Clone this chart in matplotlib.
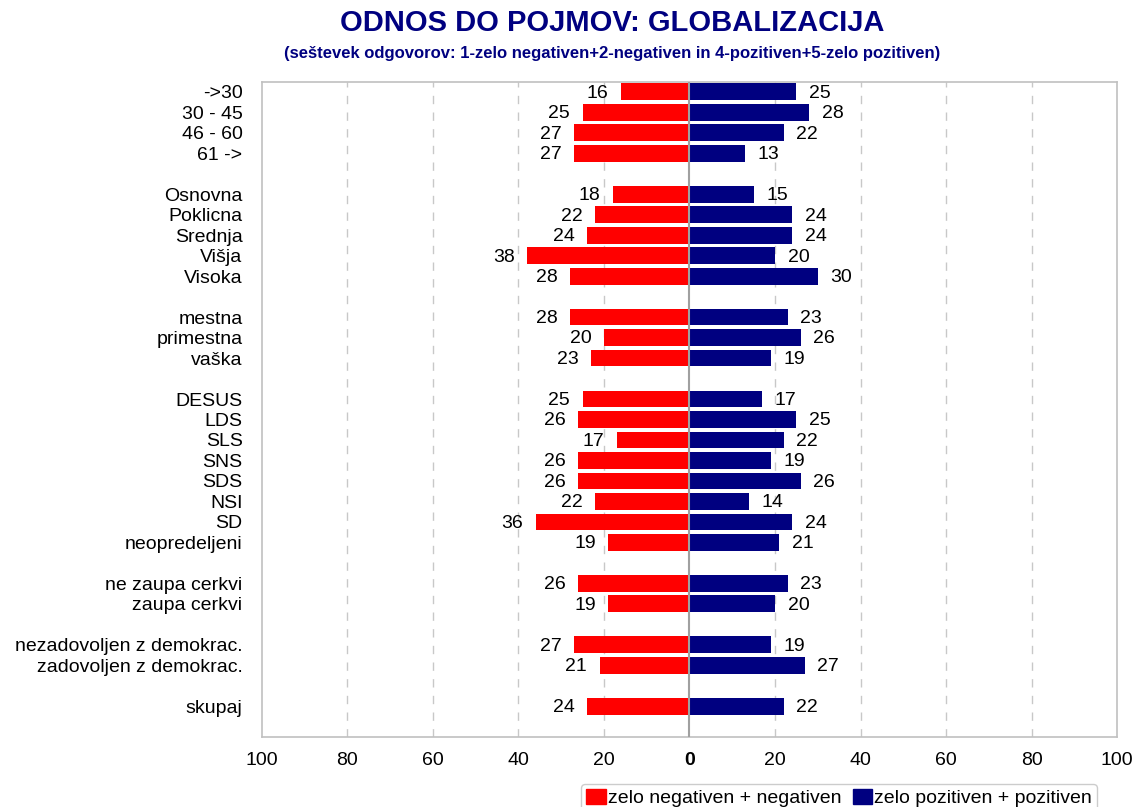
import numpy as np
import matplotlib.pyplot as plt
from matplotlib.patches import Patch

plt.rcParams['font.family'] = ['Liberation Sans', 'DejaVu Sans']

# data
labels = ['->30', '30 - 45', '46 - 60', '61 ->',
          'Osnovna', 'Poklicna', 'Srednja', 'Višja', 'Visoka',
          'mestna', 'primestna', 'vaška',
          'DESUS', 'LDS', 'SLS', 'SNS', 'SDS', 'NSI', 'SD', 'neopredeljeni',
          'ne zaupa cerkvi', 'zaupa cerkvi',
          'nezadovoljen z demokrac.', 'zadovoljen z demokrac.',
          'skupaj']
group_sizes = [4, 5, 3, 8, 2, 2, 1]
negative = [16, 25, 27, 27,
            18, 22, 24, 38, 28,
            28, 20, 23,
            25, 26, 17, 26, 26, 22, 36, 19,
            26, 19,
            27, 21,
            24]
positive = [25, 28, 22, 13,
            15, 24, 24, 20, 30,
            23, 26, 19,
            17, 25, 22, 19, 26, 14, 24, 21,
            23, 20,
            19, 27,
            22]
xticks = [-100, -80, -60, -40, -20, 0, 20, 40, 60, 80, 100]
legend_labels = ['zelo negativen + negativen', 'zelo pozitiven + pozitiven']

red = '#FF0000'
navy = '#000080'
grey = '#C0C0C0'

# row positions with a blank slot between groups
ypos = []
slot = 0
for g in group_sizes:
    for i in range(g):
        ypos.append(slot)
        slot += 1
    slot += 1
ypos = np.array(ypos)
nslots = slot - 1

fig = plt.figure(figsize=(11.36, 8.07), dpi=100)
ax = fig.add_axes([0.2306, 0.0867, 0.7527, 0.8123])

neg = -np.array(negative)
pos = np.array(positive)
ax.barh(ypos, neg, height=0.82, color=red, zorder=2)
ax.barh(ypos, pos, height=0.82, color=navy, zorder=2)
ax.axvline(0, color='#A0A0A0', lw=1.5, zorder=3)

for x in xticks:
    if x not in (0, -100, 100):
        ax.axvline(x, color='#C8C8C8', lw=1, ls=(0, (6, 6)), zorder=1)

for y, n, p in zip(ypos, negative, positive):
    ax.annotate(str(n), (-n, y), xytext=(-9, -1), textcoords='offset points',
                ha='right', va='center', fontsize=14)
    ax.annotate(str(p), (p, y), xytext=(9, -1), textcoords='offset points',
                ha='left', va='center', fontsize=14)

ax.set_xlim(-100, 100)
ax.set_ylim(nslots + 0.5, -0.5)
ax.set_xticks(xticks)
ax.set_xticklabels([str(abs(x)) for x in xticks], fontsize=14)
ax.get_xticklabels()[5].set_fontweight('bold')
ax.set_yticks(ypos)
ax.set_yticklabels(labels, fontsize=14)
ax.tick_params(axis='both', length=0)
ax.tick_params(axis='y', pad=14)
ax.tick_params(axis='x', pad=11)
for s in ax.spines.values():
    s.set_color(grey)
    s.set_linewidth(1.2)

fig.text(0.539, 0.971, 'ODNOS DO POJMOV: GLOBALIZACIJA', ha='center', va='center',
         fontsize=21, fontweight='bold', color=navy)
fig.text(0.539, 0.934, '(seštevek odgovorov: 1-zelo negativen+2-negativen in 4-pozitiven+5-zelo pozitiven)',
         ha='center', va='center', fontsize=12, fontweight='bold', color=navy)

handles = [Patch(color=red), Patch(color=navy)]
fig.legend(handles, legend_labels, loc='upper center', bbox_to_anchor=(0.7386, 0.028),
           ncol=2, fontsize=14, frameon=True, fancybox=True, edgecolor=grey,
           handlelength=1.0, handleheight=0.8, handletextpad=0.1, columnspacing=0.6,
           borderpad=0.25, borderaxespad=0)

fig.savefig('out.png', dpi=100)
